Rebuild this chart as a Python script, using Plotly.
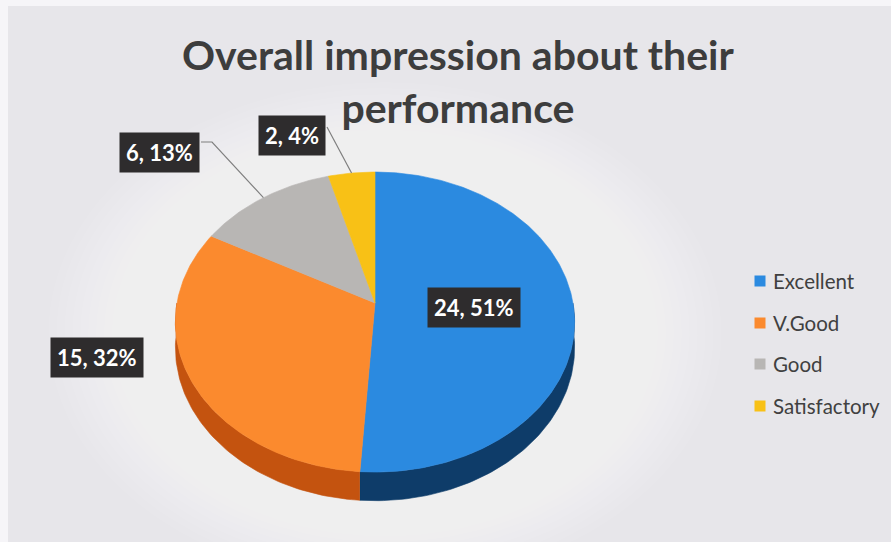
import numpy as np
import plotly.graph_objects as go

# ---- data ----
categories = ["Excellent", "V.Good", "Good", "Satisfactory"]
counts = [24, 15, 6, 2]
top_colors = ["#2b8ae0", "#fb8a2e", "#b8b6b4", "#f8c116"]
side_colors = ["#0e3c69", "#c4530f", "#8a8886", "#b8900c"]
title_text = "Overall impression about their<br>performance"

# ---- 3D pie geometry (screen pixels) ----
W, H = 891, 542
CX, CY = 375, 303       # hub of the pie
RX, RY = 198, 147.6     # rim radii
K = 0.127               # perspective strength (far side shrinks)
DEPTH = 25              # thickness of the pie wall


def project(theta_deg, r=1.0):
    """Angle measured clockwise from 12 o'clock on a tilted disk."""
    t = np.radians(theta_deg)
    u = r * np.sin(t)
    v = r * np.cos(t)
    w = 1 + K * v
    return CX + RX * u / w, CY - RY * v / w, w


total = sum(counts)
fracs = [c / total for c in counts]
edges = np.concatenate([[0], np.cumsum(fracs) * 360])

fig = go.Figure()

# soft light glow behind the pie (many faint layers for a smooth falloff)
tt = np.radians(np.linspace(0, 360, 120))
for sc in np.linspace(1.7, 1.02, 18):
    gx = CX + 10 + RX * sc * np.sin(tt)
    gy = CY + 30 - RY * sc * np.cos(tt)
    fig.add_trace(go.Scatter(x=gx, y=gy, mode="lines", fill="toself",
                             fillcolor="rgba(255,255,255,0.06)",
                             line=dict(width=0), hoverinfo="skip", showlegend=False))

# walls of the near half of the pie (90°..270°)
for i in range(len(counts)):
    a0, a1 = max(edges[i], 90), min(edges[i + 1], 270)
    if a1 <= a0:
        continue
    th = np.linspace(a0, a1, 80)
    x, y, w = project(th)
    yb = y + DEPTH / w
    px = np.concatenate([x, x[::-1]])
    py = np.concatenate([y, yb[::-1]])
    fig.add_trace(go.Scatter(x=px, y=py, mode="lines", fill="toself",
                             fillcolor=side_colors[i],
                             line=dict(width=0.6, color=side_colors[i]),
                             hoverinfo="skip", showlegend=False))

# top faces
for i in range(len(counts)):
    th = np.linspace(edges[i], edges[i + 1], max(int((edges[i + 1] - edges[i]) * 1.5), 8))
    x, y, _ = project(th)
    px = np.concatenate([[CX], x, [CX]])
    py = np.concatenate([[CY], y, [CY]])
    fig.add_trace(go.Scatter(x=px, y=py, mode="lines", fill="toself",
                             fillcolor=top_colors[i],
                             line=dict(width=0.6, color=top_colors[i]),
                             name=categories[i], hoverinfo="name", showlegend=False))

# ---- data labels ----
box_font = dict(family="Lato", size=22, color="white")
box_bg = "#2e2c2d"


def label_text(i):
    return f"<b>{counts[i]}, {round(fracs[i] * 100)}%</b>"


mids = (edges[:-1] + edges[1:]) / 2

# largest slice: label sits inside on the face
lx, ly, _ = project(mids[0], 0.5)
fig.add_annotation(x=lx, y=ly + 2, text=label_text(0), showarrow=False,
                   font=box_font, bgcolor=box_bg, borderpad=6)

# V.Good: outside, left of the rim
fig.add_annotation(x=97, y=357, text=label_text(1), showarrow=False,
                   font=box_font, bgcolor=box_bg, borderpad=6)

# Good and Satisfactory: outside with leader lines to the rim
label_boxes = {2: (159, 152, 201, 142, 212), 3: (292, 135, 327, 127, None)}
for i, (bx, by, lx0, ly0, elbow) in label_boxes.items():
    rx, ry, _ = project(mids[i])
    xs, ys = [lx0], [ly0]
    if elbow is not None:
        xs.append(elbow)
        ys.append(ly0)
    xs.append(rx)
    ys.append(ry)
    fig.add_trace(go.Scatter(x=xs, y=ys, mode="lines",
                             line=dict(color="#7f7f7f", width=1.2),
                             hoverinfo="skip", showlegend=False))
    fig.add_annotation(x=bx, y=by, text=label_text(i), showarrow=False,
                       font=box_font, bgcolor=box_bg, borderpad=6)

# ---- legend ----
leg_y = [281, 323, 364, 406]
fig.add_trace(go.Scatter(x=[760] * 4, y=leg_y, mode="markers",
                         marker=dict(symbol="square", size=11, color=top_colors,
                                     line=dict(width=0)),
                         hoverinfo="skip", showlegend=False))
for name, yy in zip(categories, leg_y):
    fig.add_annotation(x=771, y=yy, text=name, showarrow=False, xanchor="left",
                       font=dict(family="Lato", size=20.5, color="#404040"))

# ---- title ----
fig.add_annotation(x=458, y=81, text=f"<b>{title_text}</b>", showarrow=False,
                   font=dict(family="Lato", size=41, color="#3d3d3d"))

# chart area frame
fig.add_shape(type="rect", x0=8, y0=6, x1=W + 5, y1=H + 5, layer="below",
              fillcolor="#e7e6ea", line=dict(width=0))

fig.update_layout(
    width=W, height=H,
    margin=dict(l=0, r=0, t=0, b=0),
    paper_bgcolor="#f6f5f8", plot_bgcolor="rgba(0,0,0,0)",
    xaxis=dict(range=[0, W], visible=False, fixedrange=True),
    yaxis=dict(range=[H, 0], visible=False, fixedrange=True),
    showlegend=False,
)

fig.write_html("out.html")
